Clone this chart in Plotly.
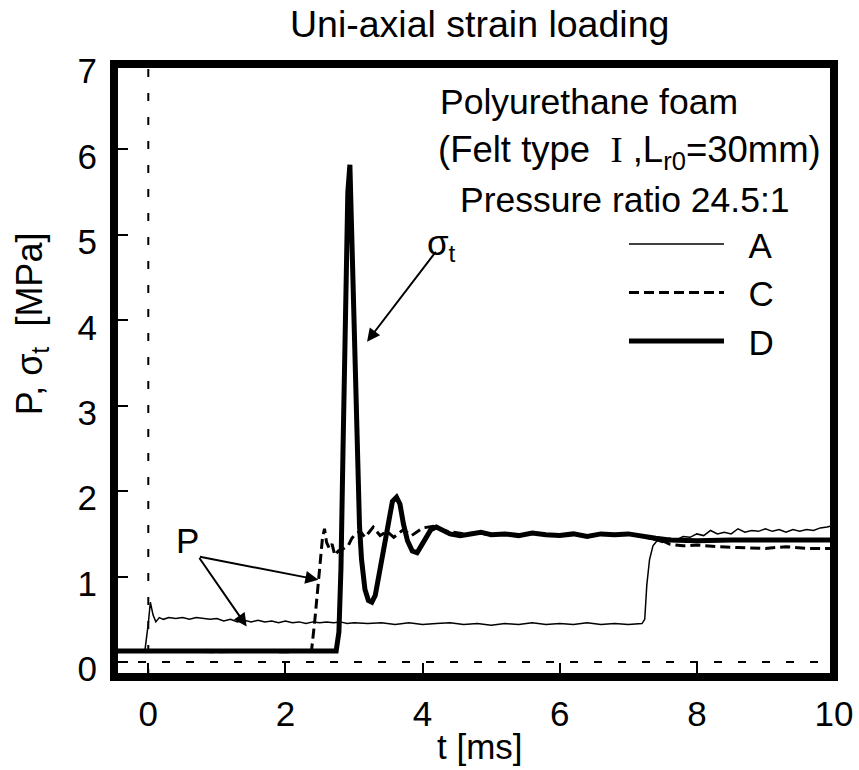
import plotly.graph_objects as go

# ---------------- data ----------------
t_A = [-0.5, -0.05, 0.0, 0.03, 0.07, 0.11, 0.16, 0.22, 0.3, 0.4, 0.5, 0.6, 0.7, 0.8, 0.9, 1.0,
       1.1, 1.2, 1.3, 1.4, 1.5, 1.6, 1.7, 1.8, 1.9, 2.0, 2.1, 2.2, 2.3, 2.4, 2.5, 2.6, 2.7, 2.8,
       2.9, 3.0, 3.2, 3.4, 3.6, 3.8, 4.0, 4.2, 4.4, 4.6, 4.8, 5.0, 5.2, 5.4, 5.6, 5.8, 6.0, 6.2,
       6.4, 6.6, 6.8, 7.0, 7.2, 7.24, 7.27, 7.31, 7.36, 7.42, 7.5, 7.6, 7.7, 7.8, 7.9, 8.0, 8.1,
       8.2, 8.3, 8.4, 8.5, 8.6, 8.7, 8.8, 8.9, 9.0, 9.1, 9.2, 9.3, 9.4, 9.5, 9.6, 9.7, 9.8, 9.9, 10.0]
P_A = [0.13, 0.13, 0.45, 0.70, 0.55, 0.47, 0.52, 0.50, 0.52, 0.51, 0.52, 0.50, 0.52, 0.51, 0.50, 0.51,
       0.48, 0.50, 0.47, 0.49, 0.47, 0.49, 0.47, 0.48, 0.46, 0.48, 0.46, 0.47, 0.45, 0.47, 0.46, 0.47, 0.46, 0.47,
       0.45, 0.46, 0.45, 0.46, 0.44, 0.46, 0.44, 0.45, 0.46, 0.44, 0.45, 0.43, 0.45, 0.44, 0.46, 0.44, 0.45, 0.44,
       0.46, 0.44, 0.45, 0.44, 0.45, 0.50, 0.90, 1.20, 1.36, 1.42, 1.40, 1.45, 1.43, 1.47, 1.46, 1.50, 1.48,
       1.54, 1.50, 1.52, 1.50, 1.56, 1.52, 1.54, 1.53, 1.56, 1.53, 1.55, 1.52, 1.55, 1.53, 1.55, 1.54, 1.57, 1.58, 1.60]

t_C = [-0.5, 0.0, 0.5, 1.0, 1.5, 2.0, 2.38, 2.43, 2.5, 2.54, 2.57, 2.6, 2.64, 2.68, 2.72, 2.77, 2.85,
       2.92, 2.97, 3.03, 3.09, 3.16, 3.22, 3.28, 3.38, 3.48, 3.58, 3.72, 3.84, 4.0, 4.16, 4.3, 4.45,
       4.6, 4.8, 5.0, 5.2, 5.4, 5.6, 5.8, 6.0, 6.2, 6.4, 6.6, 6.8, 7.0, 7.2, 7.4, 7.5, 7.6, 7.8,
       8.0, 8.3, 8.6, 9.0, 9.3, 9.6, 10.0]
P_C = [0.13, 0.13, 0.13, 0.12, 0.13, 0.12, 0.13, 0.50, 1.07, 1.45, 1.56, 1.40, 1.33, 1.38, 1.25, 1.30, 1.33,
       1.37, 1.45, 1.50, 1.53, 1.46, 1.52, 1.58, 1.48, 1.53, 1.46, 1.55, 1.48, 1.57, 1.59, 1.54, 1.52,
       1.50, 1.51, 1.49, 1.50, 1.48, 1.51, 1.49, 1.48, 1.50, 1.47, 1.50, 1.49, 1.50, 1.47, 1.44, 1.42, 1.38, 1.36,
       1.37, 1.35, 1.34, 1.33, 1.35, 1.33, 1.33]

t_D = [-0.5, 0.0, 0.5, 1.0, 1.5, 2.0, 2.5, 2.74, 2.78, 2.81, 2.84, 2.88, 2.91, 2.94, 2.96, 2.99, 3.02,
       3.05, 3.08, 3.11, 3.16, 3.21, 3.26, 3.31, 3.37, 3.44, 3.5, 3.56, 3.62, 3.67, 3.72, 3.78, 3.85,
       3.92, 3.98, 4.05, 4.12, 4.2, 4.3, 4.4, 4.55, 4.7, 4.85, 5.0, 5.2, 5.4, 5.6, 5.8, 6.0, 6.2, 6.4,
       6.6, 6.8, 7.0, 7.2, 7.4, 7.6, 7.8, 8.0, 8.5, 9.0, 9.5, 10.0]
S_D = [0.13, 0.13, 0.12, 0.13, 0.12, 0.13, 0.12, 0.13, 0.35, 1.10, 2.50, 4.50, 5.50, 5.82, 5.20, 4.00, 2.90,
       2.20, 1.60, 1.20, 0.85, 0.72, 0.70, 0.78, 1.05, 1.40, 1.68, 1.88, 1.93, 1.85, 1.62, 1.42, 1.30,
       1.28, 1.36, 1.47, 1.55, 1.58, 1.54, 1.50, 1.48, 1.50, 1.52, 1.49, 1.50, 1.48, 1.51, 1.49, 1.48, 1.50, 1.47,
       1.50, 1.49, 1.50, 1.47, 1.45, 1.43, 1.42, 1.42, 1.43, 1.43, 1.44, 1.43]

x_ticks = [0, 2, 4, 6, 8, 10]
y_ticks = [0, 1, 2, 3, 4, 5, 6, 7]
series_names = ["A", "C", "D"]

FONT = "Liberation Sans, Arial, Helvetica, sans-serif"
PAD = "\u00a0\u00a0"

fig = go.Figure()
fig.add_trace(go.Scatter(x=t_A, y=P_A, mode="lines", name=PAD + series_names[0], legendgroup="a",
                         line=dict(color="black", width=1.5)))
fig.add_trace(go.Scatter(x=t_C, y=P_C, mode="lines", name=PAD + series_names[1], legendgroup="c",
                         line=dict(color="black", width=3, dash="10px,5px")))
fig.add_trace(go.Scatter(x=t_D, y=S_D, mode="lines", name=PAD + series_names[2], legendgroup="d",
                         line=dict(color="black", width=5)))

# dashed zero lines
fig.add_shape(type="line", xref="x", yref="paper", x0=0, x1=0, y0=0, y1=1,
              line=dict(color="black", width=2, dash="8px,16px"), layer="below")
fig.add_shape(type="line", xref="paper", yref="y", x0=0, x1=1, y0=0, y1=0,
              line=dict(color="black", width=2, dash="8px,16px"), layer="below")
# thick frame
fig.add_shape(type="rect", xref="paper", yref="paper", x0=0, x1=1, y0=0, y1=1,
              line=dict(color="black", width=8))

ann = []
# title & axis titles
ann.append(dict(text="Uni-axial strain loading", xref="paper", yref="paper", x=0.508, y=1.065,
                xanchor="center", yanchor="middle", showarrow=False, font=dict(size=37.5)))
ann.append(dict(text="t [ms]", xref="paper", yref="paper", x=0.508, y=-0.114,
                xanchor="center", yanchor="middle", showarrow=False, font=dict(size=35)))
ann.append(dict(text="P, σ<sub>t</sub>  [MPa]", xref="paper", yref="paper", x=-0.114, y=0.577,
                xanchor="center", yanchor="middle", textangle=-90, showarrow=False, font=dict(size=36)))
# info block
ann.append(dict(text="Polyurethane foam", xref="paper", yref="paper", x=0.450, y=0.938,
                xanchor="left", yanchor="middle", showarrow=False, font=dict(size=35.5)))
ann.append(dict(text="(Felt type \u00a0<span style='font-family:Liberation Serif'>I</span> ,L<sub>r0</sub>=30mm)",
                xref="paper", yref="paper", x=0.447, y=0.857,
                xanchor="left", yanchor="middle", showarrow=False, font=dict(size=36.5)))
ann.append(dict(text="Pressure ratio 24.5:1", xref="paper", yref="paper", x=0.710, y=0.778,
                xanchor="center", yanchor="middle", showarrow=False, font=dict(size=35.5)))
# P label and arrows
ann.append(dict(text="P", x=0.565, y=1.42, xref="x", yref="y", showarrow=False,
                xanchor="center", yanchor="middle", font=dict(size=35)))
for hx, hy in [(1.435, 0.417), (2.48, 0.963)]:
    ann.append(dict(text="", x=hx, y=hy, ax=0.73, ay=1.236, xref="x", yref="y", axref="x", ayref="y",
                    showarrow=True, arrowhead=2, arrowsize=1.3, arrowwidth=2, arrowcolor="black"))
# sigma_t label and arrow
ann.append(dict(text="σ<sub>t</sub>", x=4.03, y=4.88, xref="x", yref="y", showarrow=False,
                xanchor="left", yanchor="middle", font=dict(size=35)))
ann.append(dict(text="", x=3.19, y=3.75, ax=4.21, ay=4.82, xref="x", yref="y", axref="x", ayref="y",
                showarrow=True, arrowhead=2, arrowsize=1.3, arrowwidth=2, arrowcolor="black"))

fig.update_layout(
    width=859, height=770,
    margin=dict(l=114, r=25, t=64, b=93, autoexpand=False),
    paper_bgcolor="white", plot_bgcolor="white",
    font=dict(family=FONT, size=34, color="black"),
    showlegend=True,
    legend=dict(x=0.7083, y=0.754, xanchor="left", yanchor="top", bgcolor="rgba(0,0,0,0)",
                borderwidth=0, itemwidth=95, tracegroupgap=0, font=dict(size=35)),
    annotations=ann,
)
fig.update_xaxes(range=[-0.5, 10], tickvals=x_ticks, ticktext=[str(v) for v in x_ticks],
                 ticks="inside", ticklen=14, tickwidth=2, tickcolor="black",
                 showgrid=False, zeroline=False, showline=False, automargin=False,
                 tickfont=dict(size=35), ticklabelstandoff=13)
fig.update_yaxes(range=[-0.175, 7], tickvals=y_ticks, ticktext=[str(v) for v in y_ticks],
                 ticks="inside", ticklen=14, tickwidth=2, tickcolor="black",
                 showgrid=False, zeroline=False, showline=False, automargin=False,
                 tickfont=dict(size=35), ticklabelstandoff=16, ticklabelshift=7)

fig.write_html("out.html", config={"displayModeBar": False},
               post_script="document.body.style.margin='0px';document.body.style.overflow='hidden';")
